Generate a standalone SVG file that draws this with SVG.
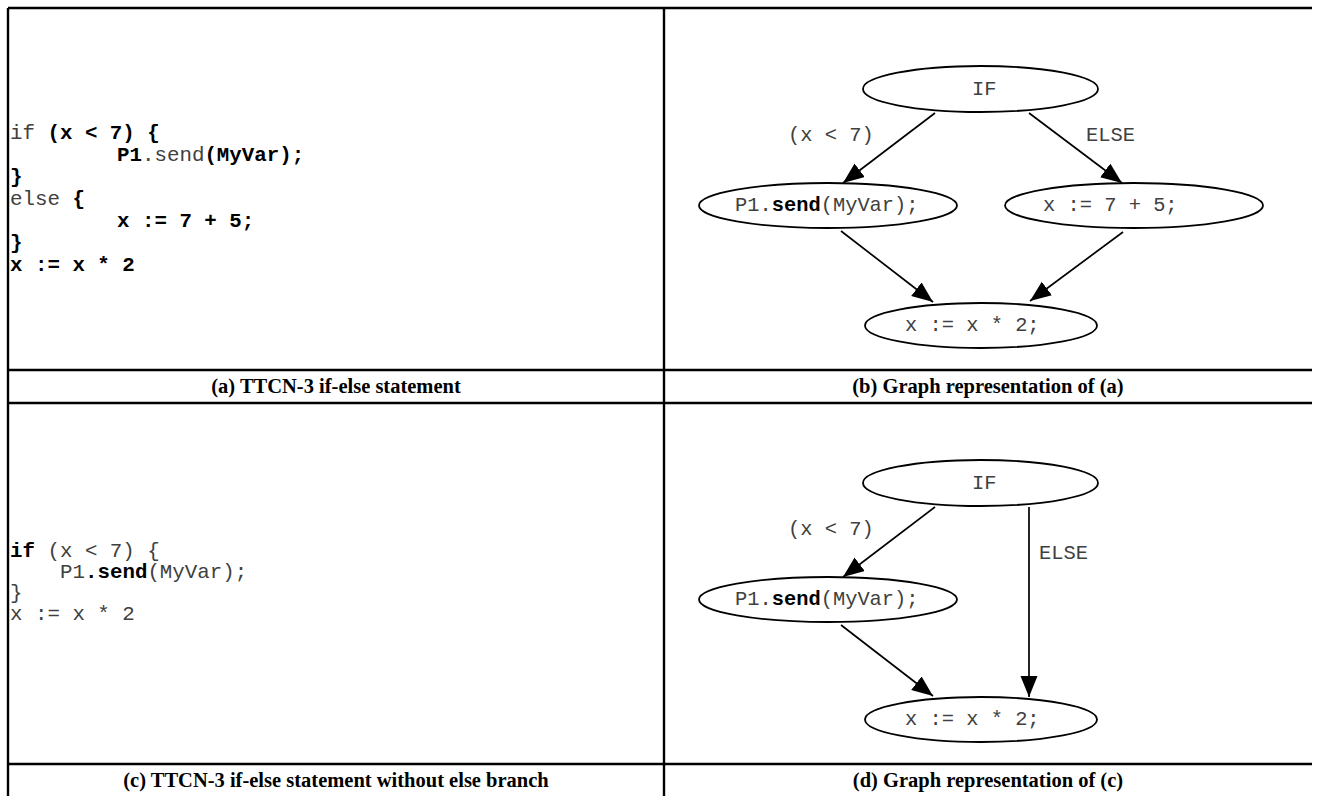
<svg xmlns="http://www.w3.org/2000/svg" width="1321" height="796" viewBox="0 0 1321 796">
<style>
.grid{stroke:#000;stroke-width:2.4;fill:none}
.code{font-family:"Liberation Mono","Courier New",monospace;font-size:20.8px;fill:#404040;white-space:pre}
.b{font-weight:bold;fill:#000}
.gt{font-family:"Liberation Mono","Courier New",monospace;font-size:20.4px;fill:#404040;white-space:pre}
.node{fill:#fff;stroke:#000;stroke-width:1.8}
.edge{stroke:#000;stroke-width:1.7;fill:none;marker-end:url(#ah)}
.cap{font-family:"Liberation Serif","Times New Roman",serif;font-size:20.5px;font-weight:bold;text-anchor:middle;fill:#000}
</style>
<defs>
<marker id="ah" markerUnits="userSpaceOnUse" markerWidth="24" markerHeight="20" refX="21" refY="8.5" orient="auto">
<path d="M0,0 L21,8.5 L0,17 z" fill="#000"/>
</marker>
</defs>
<rect width="1321" height="796" fill="#fff"/>
<g id="table">
<line class="grid" x1="8" y1="8" x2="1312" y2="8"/>
<line class="grid" x1="8" y1="8" x2="8" y2="796"/>
<line class="grid" x1="664" y1="8" x2="664" y2="796"/>
<line class="grid" x1="8" y1="370" x2="1312" y2="370"/>
<line class="grid" x1="8" y1="403" x2="1312" y2="403"/>
<line class="grid" x1="8" y1="764" x2="1312" y2="764"/>
</g>
<g id="code-a">
<text class="code" x="10" y="139">if <tspan class="b">(x &lt; 7) {</tspan></text>
<text class="code" x="117" y="161"><tspan class="b">P1</tspan>.send<tspan class="b">(MyVar);</tspan></text>
<text class="code b" x="10" y="183">}</text>
<text class="code" x="10" y="205">else <tspan class="b">{</tspan></text>
<text class="code b" x="117" y="227">x := 7 + 5;</text>
<text class="code b" x="10" y="249">}</text>
<text class="code b" x="10" y="271">x := x * 2</text>
</g>
<g id="code-c">
<text class="code" x="10" y="556.5"><tspan class="b">if</tspan> (x &lt; 7) {</text>
<text class="code" x="60" y="577.5">P1<tspan class="b">.send</tspan>(MyVar);</text>
<text class="code" x="10" y="598.5">}</text>
<text class="code" x="10" y="619.5">x := x * 2</text>
</g>
<g id="captions">
<text class="cap" x="336" y="393">(a) TTCN-3 if-else statement</text>
<text class="cap" x="988" y="393">(b) Graph representation of (a)</text>
<text class="cap" x="336" y="787">(c) TTCN-3 if-else statement without else branch</text>
<text class="cap" x="988" y="787">(d) Graph representation of (c)</text>
</g>
<g id="connectors">
<line class="edge" x1="935" y1="113" x2="843" y2="183"/>
<line class="edge" x1="841" y1="231" x2="933" y2="302"/>
<line class="edge" x1="1029" y1="113" x2="1122" y2="183"/>
<line class="edge" x1="1123" y1="232" x2="1030" y2="301"/>
<line class="edge" x1="935" y1="507" x2="843" y2="577"/>
<line class="edge" x1="841" y1="625" x2="933" y2="696"/>
<line class="edge" x1="1029" y1="507" x2="1029" y2="697"/>
<text class="gt" x="788" y="141">(x &lt; 7)</text>
<text class="gt" x="1086" y="141">ELSE</text>
<text class="gt" x="788" y="535">(x &lt; 7)</text>
<text class="gt" x="1039" y="559">ELSE</text>
</g>
<g id="b-if"><ellipse class="node" cx="980.5" cy="89" rx="117.5" ry="23"/><text class="gt" x="972" y="95">IF</text></g>
<g id="b-send"><ellipse class="node" cx="828" cy="205.5" rx="129" ry="22.5"/><text class="gt" x="735" y="211">P1.<tspan class="b">send</tspan>(MyVar);</text></g>
<g id="b-else"><ellipse class="node" cx="1134" cy="205.5" rx="129" ry="22.5"/><text class="gt" x="1043" y="211">x := 7 + 5;</text></g>
<g id="b-mul"><ellipse class="node" cx="981" cy="325.5" rx="116" ry="22.5"/><text class="gt" x="905" y="331">x := x * 2;</text></g>
<g id="d-if"><ellipse class="node" cx="980.5" cy="483" rx="117.5" ry="23"/><text class="gt" x="972" y="489">IF</text></g>
<g id="d-send"><ellipse class="node" cx="828" cy="599.5" rx="129" ry="22.5"/><text class="gt" x="735" y="605">P1.<tspan class="b">send</tspan>(MyVar);</text></g>
<g id="d-mul"><ellipse class="node" cx="981" cy="719.5" rx="116" ry="22.5"/><text class="gt" x="905" y="725">x := x * 2;</text></g>
</svg>
